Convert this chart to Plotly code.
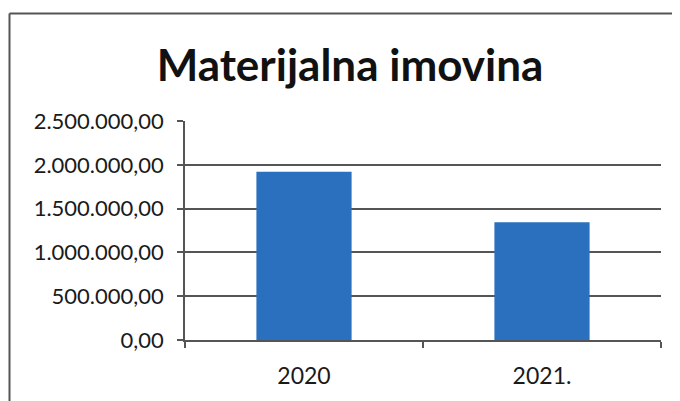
import plotly.graph_objects as go

# Data
years = ["2020", "2021."]
values = [1920000, 1345000]
y_ticks = [0, 500000, 1000000, 1500000, 2000000, 2500000]

# the page body adds an 8px offset, so margins are measured in figure pixels
W, H = 680, 401
L, R, T, B = 177, 27, 113, 69
plot_w = W - L - R
plot_h = H - T - B

fig = go.Figure()

fig.add_trace(go.Bar(
    x=years,
    y=values,
    marker=dict(color='#2A70BF', line=dict(width=0)),
    width=0.4,
))

# Chart frame (left and top edges visible in the scan)
frame_x = (1.5 - L) / plot_w
frame_y = (H - B - 5.5) / plot_h
fig.add_shape(type='line', xref='paper', yref='paper',
              x0=frame_x, x1=frame_x,
              y0=frame_y, y1=-(B + 5) / plot_h,
              line=dict(color='#555555', width=2))
fig.add_shape(type='line', xref='paper', yref='paper',
              x0=frame_x, x1=(W + 5 - L) / plot_w,
              y0=frame_y, y1=frame_y,
              line=dict(color='#555555', width=2))

fig.update_layout(
    width=W,
    height=H,
    margin=dict(l=L, r=R, t=T, b=B),
    paper_bgcolor='white',
    plot_bgcolor='white',
    separators=',.',
    showlegend=False,
    title=dict(
        text='<b>Materijalna imovina</b>',
        x=(350 - 8) / W,
        xanchor='center',
        y=1 - 58 / H,
        yanchor='middle',
        font=dict(family='Lato', size=44, color='#111111'),
    ),
    font=dict(family='Lato', color='#1a1a1a'),
)

fig.update_xaxes(
    type='category',
    showline=True,
    linecolor='#555555',
    linewidth=1.5,
    ticks='outside',
    tickson='boundaries',
    ticklen=6,
    tickcolor='#555555',
    tickwidth=1.5,
    showgrid=False,
    tickfont=dict(size=23),
    ticklabelstandoff=15,
)

fig.update_yaxes(
    range=[0, 2500000],
    tickvals=y_ticks,
    tickformat=',.2f',
    showline=True,
    linecolor='#555555',
    linewidth=1.5,
    ticks='outside',
    ticklen=6,
    tickcolor='#555555',
    tickwidth=1.5,
    showgrid=True,
    gridcolor='#555555',
    gridwidth=1.5,
    zeroline=False,
    tickfont=dict(size=22),
    ticklabelstandoff=9,
)

fig.write_html("out.html")
